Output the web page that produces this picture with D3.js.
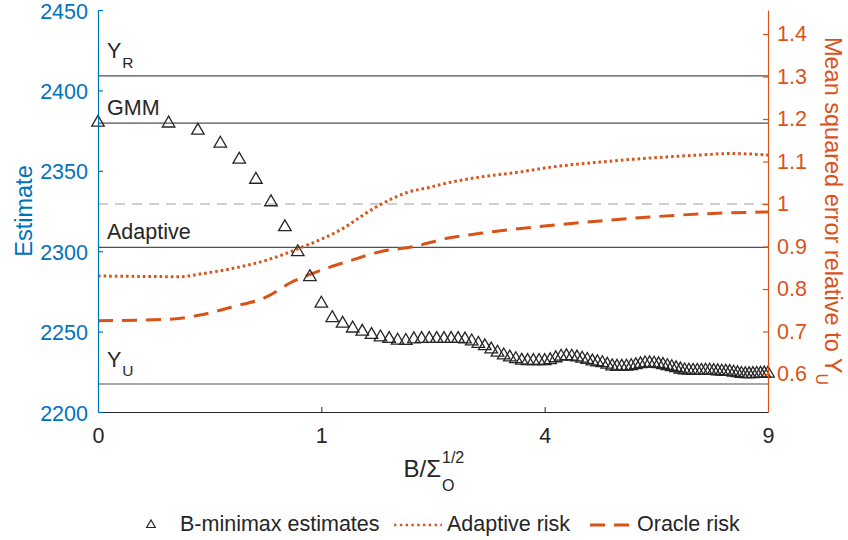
<!DOCTYPE html>
<html><head><meta charset="utf-8">
<script src="https://cdn.jsdelivr.net/npm/d3@7"></script>
<style>
body{margin:0;background:#fff}
svg text{font-family:"Liberation Sans",Arial,Helvetica,sans-serif}
</style>
</head><body>
<svg id="chart" width="848" height="540"></svg>
<script>
// ---- data ----
const bGrid = [0,0.1,0.2,0.3,0.4,0.5,0.6,0.7,0.8,0.9,
  1,1.1,1.2,1.3,1.4,1.5,1.6,1.7,1.8,1.9,
  2,2.1,2.2,2.3,2.4,2.5,2.6,2.7,2.8,2.9,
  3,3.1,3.2,3.3,3.4,3.5,3.6,3.7,3.8,3.9,
  4,4.1,4.2,4.3,4.4,4.5,4.6,4.7,4.8,4.9,
  5,5.1,5.2,5.3,5.4,5.5,5.6,5.7,5.8,5.9,
  6,6.1,6.2,6.3,6.4,6.5,6.6,6.7,6.8,6.9,
  7,7.1,7.2,7.3,7.4,7.5,7.6,7.7,7.8,7.9,
  8,8.1,8.2,8.3,8.4,8.5,8.6,8.7,8.8,8.9,
  9];
const estimates = [2380,2379.5,2375,2367,2357,2344.5,2330.5,2315,2299.5,2284,
  2267.5,2258.5,2255,2252,2250,2248,2246.5,2245.5,2244.5,2244.3,
  2245.3,2245.5,2245.5,2245.5,2245.5,2245.5,2245.5,2245.2,2244,2242.5,
  2241,2239,2237,2235.3,2234,2233,2232,2231.8,2231.8,2231.8,
  2231.8,2232.3,2233.5,2234.5,2234.8,2234.5,2234,2233.3,2232.5,2231.5,
  2231,2230.5,2229.5,2228.5,2228.2,2228.2,2228.3,2228.6,2229.2,2229.8,
  2230.3,2230.4,2230.2,2229.8,2229.3,2228.6,2228,2227.3,2226.5,2226,
  2225.8,2225.7,2225.7,2225.7,2225.8,2225.8,2225.6,2225.4,2225.2,2225.1,
  2225,2224.6,2224.2,2223.8,2223.6,2223.6,2223.7,2223.8,2223.9,2224,
  2224];
const adaptiveB    = [0,0.054,0.135,0.209,0.366,0.573,0.818,1.175,1.55,1.75,1.915,2.2,2.443,2.927,3.571,4,5.054,6.111,7.268,8.01,8.525,9];
const adaptiveRisk = [0.8306,0.8294,0.829,0.8353,0.8487,0.8682,0.8965,0.9388,0.993,1.014,1.027,1.039,1.0494,1.0635,1.0753,1.0847,1.0988,1.1082,1.1153,1.1188,1.1176,1.1153];
const oracleB      = [0,0.113,0.209,0.366,0.573,0.739,0.91,1.108,1.243,1.595,1.99,2.443,2.927,3.454,4,5.054,6.111,7.268,9];
const oracleRisk   = [0.7254,0.7294,0.7388,0.7584,0.7819,0.8141,0.8353,0.8541,0.8642,0.8878,0.8995,0.9193,0.931,0.9405,0.9482,0.96,0.9694,0.9765,0.9812];
const refNames  = ["Y","GMM","Adaptive","Y"];
const refSubs   = ["R","","","U"];
const refValues = [2409,2379.7,2302.4,2217.4];
const riskRefValue = 1;
const xTicks = [0,1,4,9];
const leftTicks = [2200,2250,2300,2350,2400,2450];
const rightTicks = [0.6,0.7,0.8,0.9,1,1.1,1.2,1.3,1.4];
const legendLabels = ["B-minimax estimates","Adaptive risk","Oracle risk"];

// ---- drawing ----
const BLUE="#0072BD", ORANGE="#D95319", INK="#262626";
const svg = d3.select("#chart");
const x = d3.scaleSqrt().domain([0,9]).range([98,768]);
const yL = d3.scaleLinear().domain([2200,2450]).range([412,10]);
const yR = d3.scaleLinear().domain([0.5106,1.4565]).range([412,10]);

// reference lines
refValues.forEach((v,i)=>{
  svg.append("line").attr("x1",x(0)).attr("x2",x(9)).attr("y1",yL(v)).attr("y2",yL(v))
    .attr("stroke","#505050").attr("stroke-width",1.2);
  const hasSub = refSubs[i] !== "";
  const t = svg.append("text").attr("x",107).attr("y",yL(v) - (hasSub?17.5:8))
    .attr("font-size",21.5).attr("fill",INK).text(refNames[i]);
  if(hasSub) t.append("tspan").attr("dx",1).attr("dy",9.5).attr("font-size",15.5).text(refSubs[i]);
});
svg.append("line").attr("x1",x(0)).attr("x2",x(9)).attr("y1",yR(riskRefValue)).attr("y2",yR(riskRefValue))
  .attr("stroke","#a0a0a0").attr("stroke-width",1.2).attr("stroke-dasharray","10,7");

// curves
const lineR = d3.line().x(d=>x(d[0])).y(d=>yR(d[1])).curve(d3.curveMonotoneX);
svg.append("path").datum(oracleB.map((b,i)=>[b,oracleRisk[i]]))
  .attr("d",lineR).attr("fill","none").attr("stroke",ORANGE).attr("stroke-width",3)
  .attr("stroke-dasharray","15,9");
svg.append("path").datum(adaptiveB.map((b,i)=>[b,adaptiveRisk[i]]))
  .attr("d",lineR).attr("fill","none").attr("stroke",ORANGE).attr("stroke-width",3)
  .attr("stroke-dasharray","2.6,3");

// triangles
const tri = d3.symbol().type(d3.symbolTriangle).size(68);
svg.append("g").selectAll("path").data(bGrid).join("path")
  .attr("transform",(b,i)=>`translate(${x(b)},${yL(estimates[i])})`)
  .attr("d",tri).attr("fill","none").attr("stroke",INK).attr("stroke-width",1.3);

// axes
const gx = svg.append("g").attr("transform","translate(0,412)")
  .call(d3.axisBottom(x).tickValues(xTicks).tickFormat(d3.format("d")).tickSize(-5).tickSizeOuter(0).tickPadding(16));
gx.selectAll("path,line").attr("stroke",INK);
gx.selectAll("text").attr("fill",INK).attr("font-size",21.5).attr("font-family",null);

const gl = svg.append("g").attr("transform","translate(98,0)")
  .call(d3.axisLeft(yL).tickValues(leftTicks).tickFormat(d3.format("d")).tickSize(-5).tickSizeOuter(0).tickPadding(10));
gl.selectAll("path,line").attr("stroke",BLUE).attr("stroke-width",1.2);
gl.selectAll("text").attr("fill",BLUE).attr("font-size",21.5).attr("font-family",null).attr("dy","0.38em");

const gr = svg.append("g").attr("transform","translate(768,0)")
  .call(d3.axisRight(yR).tickValues(rightTicks).tickFormat(d=>String(d)).tickSize(-5).tickSizeOuter(0).tickPadding(9));
gr.selectAll("path,line").attr("stroke",ORANGE).attr("stroke-width",1.2);
gr.selectAll("text").attr("fill",ORANGE).attr("font-size",21.5).attr("font-family",null);

// axis titles
svg.append("text").attr("transform","translate(32,211) rotate(-90)").attr("text-anchor","middle")
  .attr("font-size",23.5).attr("fill",BLUE).text("Estimate");
const rt = svg.append("text").attr("transform","translate(825,211) rotate(90)").attr("text-anchor","middle")
  .attr("font-size",23.5).attr("fill",ORANGE).text("Mean squared error relative to Y");
rt.append("tspan").attr("dy",9).attr("font-size",16).text("U");

svg.append("text").attr("x",441).attr("y",477).attr("text-anchor","end")
  .attr("font-size",24).attr("fill",INK).text("B/Σ");
svg.append("text").attr("x",442).attr("y",463).attr("font-size",16).attr("fill",INK).text("1/2");
svg.append("text").attr("x",442).attr("y",491).attr("font-size",16).attr("fill",INK).text("O");

// legend
const lg = svg.append("g");
lg.append("path").attr("transform","translate(151,525)").attr("d",d3.symbol().type(d3.symbolTriangle).size(32))
  .attr("fill","none").attr("stroke",INK).attr("stroke-width",1.2);
lg.append("text").attr("x",180).attr("y",531).attr("font-size",21.5).attr("fill",INK).text(legendLabels[0]);
lg.append("line").attr("x1",394).attr("x2",442).attr("y1",525).attr("y2",525)
  .attr("stroke",ORANGE).attr("stroke-width",2.6).attr("stroke-dasharray","2.4,3.4");
lg.append("text").attr("x",447).attr("y",531).attr("font-size",21.5).attr("fill",INK).text(legendLabels[1]);
lg.append("line").attr("x1",590).attr("x2",629).attr("y1",525).attr("y2",525)
  .attr("stroke",ORANGE).attr("stroke-width",3).attr("stroke-dasharray","15,9");
lg.append("text").attr("x",637).attr("y",531).attr("font-size",21.5).attr("fill",INK).text(legendLabels[2]);
</script>
</body></html>
